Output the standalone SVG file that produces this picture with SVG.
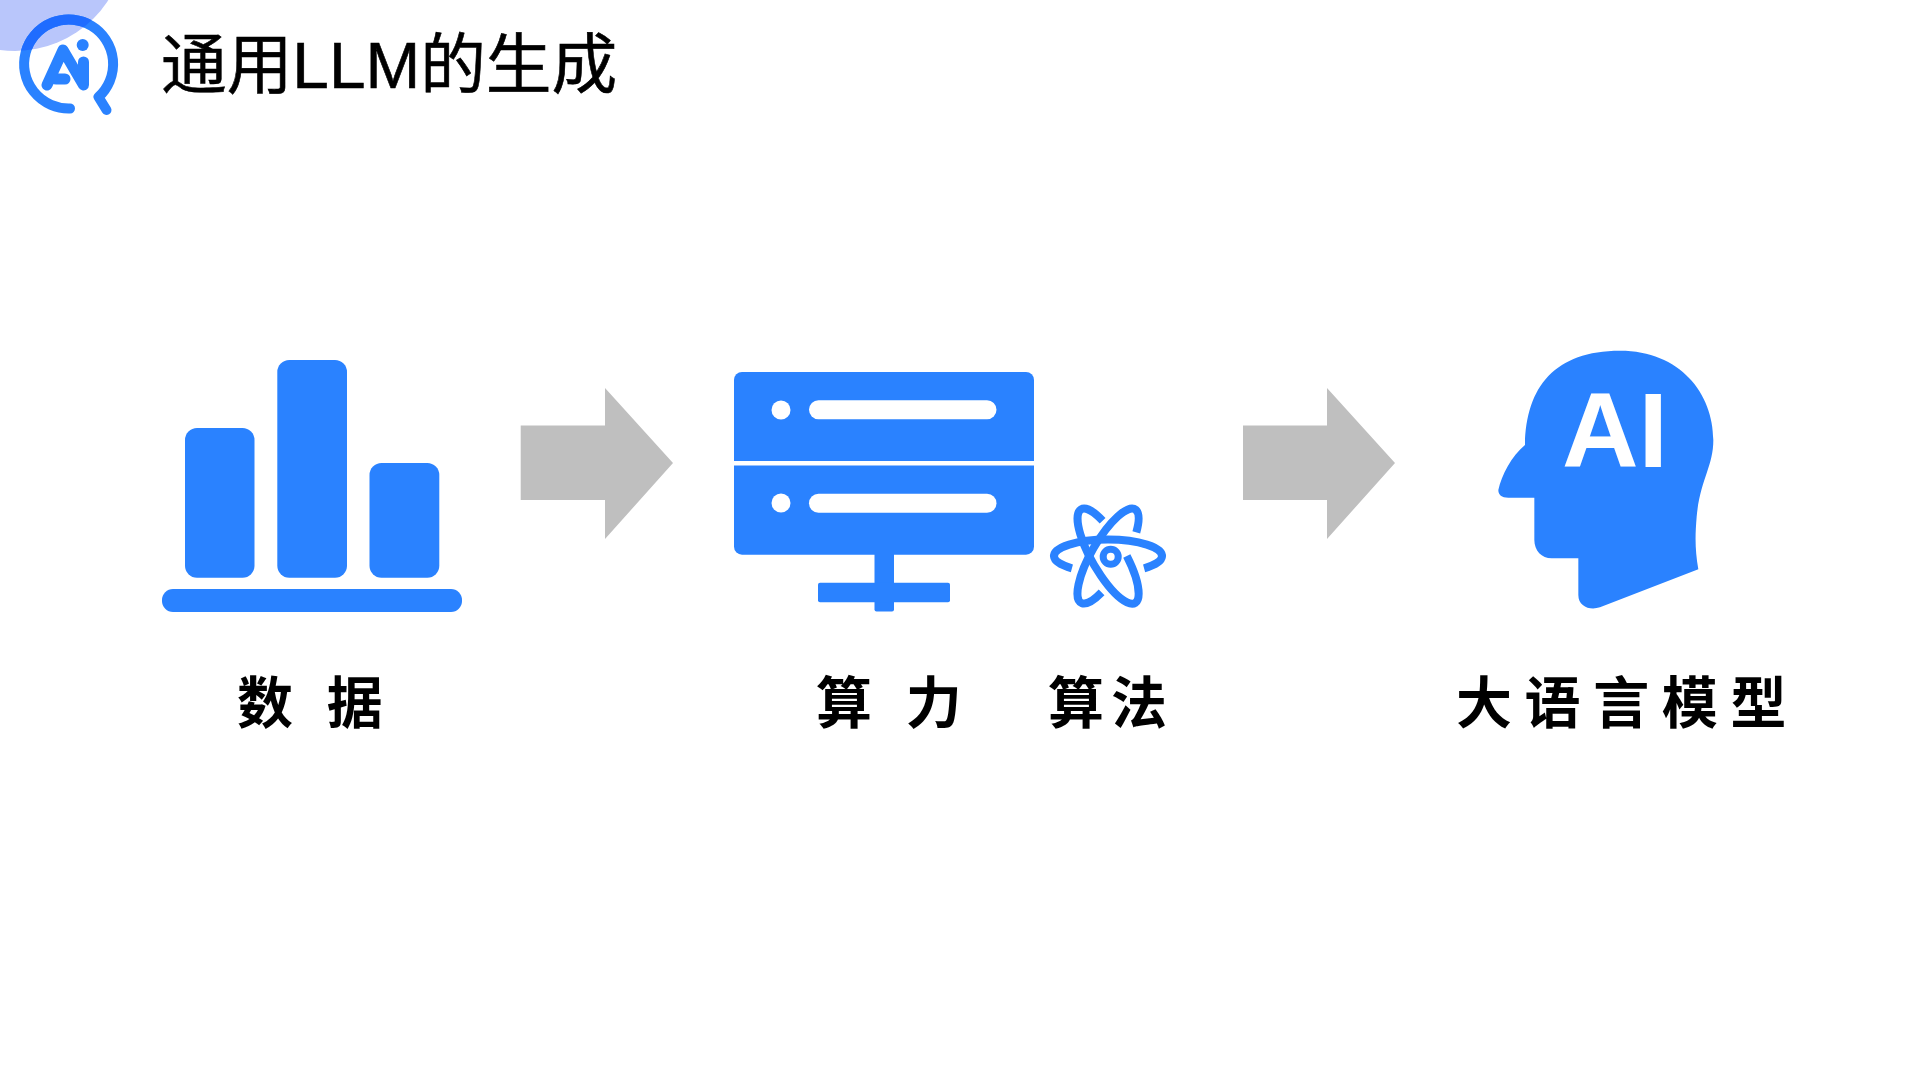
<svg xmlns="http://www.w3.org/2000/svg" width="1912" height="1068" viewBox="0 0 1912 1068">
<style>
.b{fill:#2a82ff}
.w{fill:#fff}
.arrow{fill:#bfbfbf}
.label{font-family:"Noto Sans CJK SC","Liberation Sans",sans-serif;font-weight:700;font-size:56px;fill:#000}
.title{font-family:"Liberation Sans","Noto Sans CJK SC",sans-serif;font-size:65.700px;fill:#000;stroke:#000;stroke-width:.6px}
.orbit{fill:none;stroke:#2a82ff;stroke-width:8}
.logo{fill:none;stroke:#2a82ff;stroke-width:10;stroke-linecap:round;stroke-linejoin:round}
</style>
<defs>
<clipPath id="lav"><circle cx="15" cy="-60" r="111"/></clipPath>
</defs>
<rect width="1912" height="1068" fill="#fff"/>
<g id="logo">
<circle cx="15" cy="-60" r="111" fill="#b9c6fb"/>
<path class="logo" d="M70,108.500A44.500,44.500 0 1 1 98.500,97L106.500,110"/>
<path class="logo" clip-path="url(#lav)" style="stroke:#1f6cff" d="M70,108.500A44.500,44.500 0 1 1 98.500,97"/>
<path class="logo" style="stroke-width:11" d="M47,85L63,50L83.500,85V62M56,79H65"/>
<circle class="b" cx="82.700" cy="45" r="6"/>
</g>
<text id="title" class="title" x="161" y="88">通用LLM的生成</text>
<g id="data">
<rect class="b" x="185" y="428" width="69.500" height="149.700" rx="12"/>
<rect class="b" x="277.300" y="360" width="69.700" height="217.700" rx="12"/>
<rect class="b" x="369.500" y="463" width="69.800" height="114.700" rx="12"/>
<rect class="b" x="162" y="589" width="300" height="23" rx="11"/>
<text class="label" x="237" y="723" xml:space="preserve" style="letter-spacing:10.500px">数 据</text>
</g>
<g id="compute">
<path class="b" d="M734,380a8,8 0 0 1 8,-8H1026a8,8 0 0 1 8,8V461H734Z"/>
<path class="b" d="M734,465.500H1034V546.700a8,8 0 0 1 -8,8H742a8,8 0 0 1 -8,-8Z"/>
<circle class="w" cx="781" cy="410" r="9.500"/>
<rect class="w" x="809" y="400.300" width="187.500" height="19" rx="9.500"/>
<circle class="w" cx="781" cy="503" r="9.500"/>
<rect class="w" x="809" y="493.700" width="187.500" height="19" rx="9.500"/>
<rect class="b" x="874.500" y="550" width="19.500" height="61.500" rx="2"/>
<rect class="b" x="818" y="582.700" width="132" height="19.600" rx="2"/>
<text class="label" x="816" y="723" xml:space="preserve" style="letter-spacing:10.500px">算 力</text>
</g>
<g id="algorithm">
<circle cx="1110.700" cy="556.700" r="7.500" fill="none" stroke="#2a82ff" stroke-width="7"/>
<path class="orbit" d="M1071.900,568.300A54,16.500 0 1 1 1144.100,568.300"/>
<path class="orbit" d="M1102.600,520.700A54,16.500 60 1 0 1126.800,556"/>
<path class="orbit" d="M1136.300,532.300A54,16.500 -60 1 0 1101.600,592.400"/>
<text class="label" x="1048" y="723" style="letter-spacing:7px">算法</text>
</g>
<g id="model">
<path class="b" transform="translate(1480 330) scale(.33333)" d="M135,345C138,170 225,62 420,62C600,62 700,190 700,330C700,410 660,450 650,560C645,620 645,660 655,718L360,832C330,842 295,830 295,795V685H215C185,685 163,662 163,630V503H85C65,503 55,495 55,480C65,435 95,378 135,345Z"/>
<text x="1562" y="466.700" font-family="Liberation Sans" font-weight="700" font-size="106" fill="#fff">AI</text>
<text class="label" x="1456" y="723" style="letter-spacing:12.600px">大语言模型</text>
</g>
<g id="connectors">
<path class="arrow" d="M520.700,425.500H605V388L673,463L605,539V500H520.700Z"/>
<path class="arrow" d="M1243,425.500H1327V388L1395,463L1327,539V500H1243Z"/>
</g>
</svg>
